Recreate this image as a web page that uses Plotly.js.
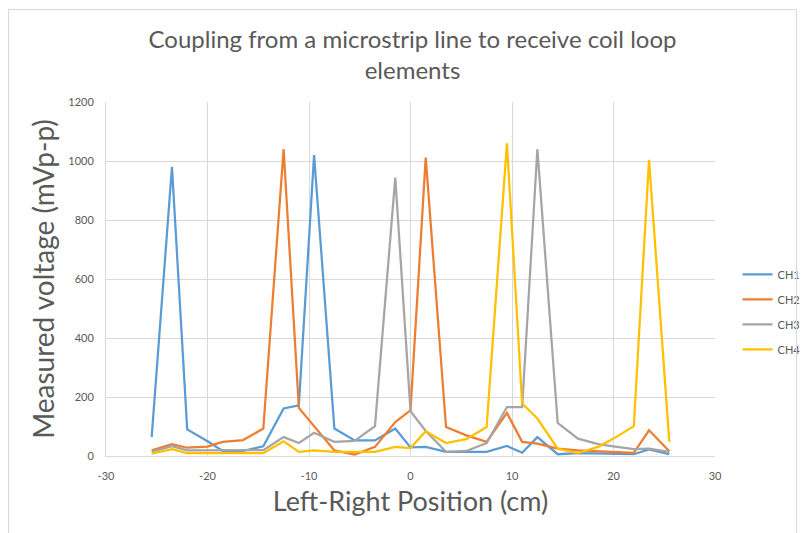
<!DOCTYPE html>
<html>
<head>
<meta charset="utf-8">
<script src="https://cdn.plot.ly/plotly-3.0.1.min.js"></script>
<style>
html,body{margin:0;padding:0;background:#fff;}
#frame{position:absolute;left:8px;top:9px;width:789px;height:540px;border:1px solid #d9d9d9;box-sizing:border-box;pointer-events:none;}
#chart{position:absolute;left:0;top:0;width:801px;height:533px;}
</style>
</head>
<body>
<div id="chart"></div>
<div id="frame"></div>
<script>
const positions = [-25.5,-23.5,-22,-20,-18.5,-16.5,-14.5,-12.5,-11,-9.5,-7.5,-5.5,-3.5,-1.5,0,1.5,3.5,5.5,7.5,9.5,11,12.5,14.5,16.5,18.5,20,22,23.5,25.5];
const ch1 = [64,980,90,50,17,17,33,161,172,1020,93,53,53,93,29,31,14,14,14,34,11,64,6,10,8,6,6,22,6];
const ch2 = [19,40,28,32,48,54,93,1040,163,100,19,5,31,115,155,1012,98,70,48,146,48,42,25,19,16,14,11,87,16];
const ch3 = [15,33,19,19,19,19,20,64,44,79,48,51,101,944,152,85,14,17,44,166,166,1040,112,59,40,33,23,25,14];
const ch4 = [8,23,10,10,10,10,10,50,14,19,14,14,14,31,27,84,44,57,98,1060,178,127,25,10,31,59,101,1004,48];
const seriesNames = ['CH1','CH2','CH3','CH4'];
const seriesColors = ['#5B9BD5','#ED7D31','#A5A5A5','#FFC000'];
const seriesData = [ch1,ch2,ch3,ch4];
const xTicks = [-30,-20,-10,0,10,20,30];
const yTicks = [0,200,400,600,800,1000,1200];

const font = 'Lato, "Open Sans", sans-serif';
const traces = seriesData.map((d,i)=>({
  x: positions, y: d, type:'scatter', mode:'lines', name: seriesNames[i],
  legendgroup: seriesNames[i],
  line:{color:seriesColors[i], width:2.25}
}));

const layout = {
  width:801, height:533,
  margin:{l:106, r:86, t:102, b:77, autoexpand:false},
  paper_bgcolor:'rgba(0,0,0,0)', plot_bgcolor:'#fff',
  font:{family:font, color:'#595959'},
  title:{text:'Coupling from a microstrip line to receive coil loop<br>elements',
    font:{size:24, color:'#595959', family:font}, x:0.515, xanchor:'center', y:0.91, yanchor:'top'},
  xaxis:{range:[-30,30], tickvals:xTicks, ticktext:xTicks.map(String),
    showgrid:true, gridcolor:'#d9d9d9', gridwidth:1, zeroline:false,
    showline:true, linecolor:'#d9d9d9', mirror:false,
    ticks:'outside', ticklen:10, tickcolor:'rgba(0,0,0,0)',
    tickfont:{size:11, color:'#595959'},
    title:{text:'Left-Right Position (cm)', font:{size:27, color:'#595959'}, standoff:10}},
  yaxis:{range:[0,1200], tickvals:yTicks, ticktext:yTicks.map(String),
    showgrid:true, gridcolor:'#d9d9d9', gridwidth:1, zeroline:false,
    showline:true, linecolor:'#d9d9d9',
    ticks:'outside', ticklen:9, tickcolor:'rgba(0,0,0,0)',
    tickfont:{size:11, color:'#595959'},
    title:{text:'Measured voltage (mVp-p)', font:{size:28, color:'#595959'}, standoff:5}},
  showlegend:true,
  legend:{x:1.037, xanchor:'left', y:0.407, yanchor:'middle', traceorder:'grouped', tracegroupgap:6,
    font:{size:11, color:'#595959'}, bgcolor:'rgba(0,0,0,0)'}
};
Plotly.newPlot('chart', traces, layout, {displayModeBar:false, staticPlot:true});
</script>
</body>
</html>
